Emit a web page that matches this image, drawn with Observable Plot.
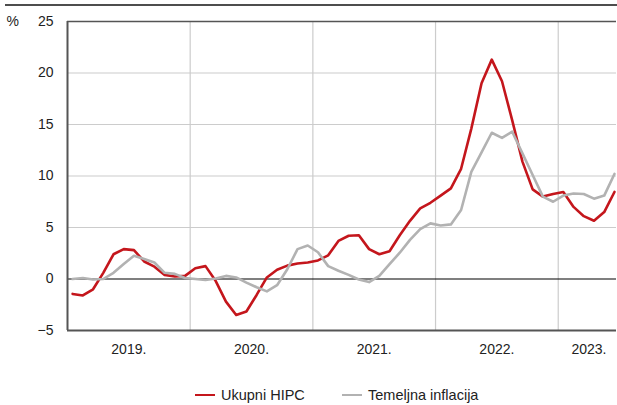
<!DOCTYPE html>
<html>
<head>
<meta charset="utf-8">
<script src="https://cdn.jsdelivr.net/npm/d3@7"></script>
<script src="https://cdn.jsdelivr.net/npm/@observablehq/plot@0.6"></script>
<style>
  html, body { margin: 0; padding: 0; background: #fff; }
  body { position: relative; width: 617px; height: 405px; overflow: hidden; font-family: "Liberation Sans", Arial, sans-serif; }
  #topline { position: absolute; left: 5px; right: 0; top: 4px; height: 0; border-top: 2px solid #4d4d4d; z-index: 2; }
  #chart { position: absolute; left: 0; top: 0; z-index: 1; }
  .leg { position: absolute; top: 387px; font-size: 14.5px; color: #222; display: flex; align-items: center; white-space: nowrap; z-index: 2; }
  .sw { display: inline-block; width: 20px; height: 0; border-top: 2.5px solid; margin-right: 6px; }
</style>
</head>
<body>
<div id="chart"></div>
<div id="topline"></div>
<div class="leg" id="leg1" style="left:195px"></div>
<div class="leg" id="leg2" style="left:342px"></div>
<script>
// Monthly values, Jan 2019 – Jun 2023
const seriesNames = ["Ukupni HIPC", "Temeljna inflacija"];
const seriesColors = ["#c4161c", "#b2b2b2"];
const hipc = [
  -1.45, -1.6, -1.0, 0.6, 2.4, 2.9, 2.8, 1.7, 1.2, 0.4, 0.25, 0.3,
  1.05, 1.25, -0.2, -2.2, -3.5, -3.15, -1.55, 0.15, 0.9, 1.3, 1.5, 1.6,
  1.8, 2.3, 3.7, 4.2, 4.25, 2.9, 2.4, 2.7, 4.25, 5.65, 6.85, 7.4,
  8.1, 8.8, 10.7, 14.6, 19.0, 21.3, 19.2, 15.4, 11.4, 8.7, 8.0, 8.25,
  8.45, 7.0, 6.1, 5.65, 6.5, 8.45
];
const core = [
  0.0, 0.1, -0.05, 0.0, 0.6, 1.45, 2.25, 1.95, 1.6, 0.6, 0.5, 0.1,
  0.0, -0.1, 0.05, 0.3, 0.15, -0.35, -0.8, -1.2, -0.6, 0.95, 2.9, 3.25,
  2.6, 1.25, 0.8, 0.4, -0.05, -0.3, 0.3, 1.45, 2.55, 3.8, 4.85, 5.4,
  5.2, 5.3, 6.7, 10.4, 12.3, 14.2, 13.7, 14.3, 12.2, 10.1, 8.0, 7.5,
  8.1, 8.3, 8.25, 7.8, 8.1, 10.2
];
const yearLabels = ["2019.", "2020.", "2021.", "2022.", "2023."];
const yearLabelPos = [6, 18, 30, 42, 51];   // month-index centres of each year's data
const yearBounds = [12, 24, 36, 48];        // month index where a new year starts
const yTicks = [-5, 0, 5, 10, 15, 20, 25];

const rows = [];
hipc.forEach((v, i) => rows.push({m: i + 0.5, v, s: seriesNames[0]}));
core.forEach((v, i) => rows.push({m: i + 0.5, v, s: seriesNames[1]}));

const font = "Liberation Sans, Arial, sans-serif";
const chart = Plot.plot({
  width: 617,
  height: 365,
  marginLeft: 67,
  marginRight: 1,
  marginTop: 21,
  marginBottom: 35,
  style: {fontFamily: font, fontSize: "14px", color: "#222", background: "#fff"},
  x: {type: "linear", domain: [0, 53.7]},
  y: {domain: [-5, 25]},
  color: {domain: seriesNames, range: seriesColors},
  marks: [
    Plot.ruleY(yTicks.filter(t => t > 0 && t < 25), {stroke: "#cccccc", strokeWidth: 1.2}),
    Plot.ruleX(yearBounds, {y1: -5, y2: 25, stroke: "#cccccc", strokeWidth: 1.2}),
    Plot.ruleY([0], {stroke: "#000", strokeWidth: 1.2}),
    Plot.line(rows, {x: "m", y: "v", z: "s", stroke: "s", strokeWidth: 2.6, strokeLinejoin: "round"}),
    Plot.ruleY([25], {stroke: "#555", strokeWidth: 1.5}),
    Plot.ruleY([-5], {stroke: "#555", strokeWidth: 2}),
    Plot.ruleX([0], {y1: -5, y2: 25, stroke: "#555", strokeWidth: 2}),
    Plot.axisY(yTicks, {tickSize: 0, tickPadding: 14, label: null, fontSize: 14}),
    Plot.axisX(yearLabelPos, {tickSize: 0, tickPadding: 14, label: null, fontSize: 14,
      tickFormat: d => yearLabels[yearLabelPos.indexOf(d)]}),
    Plot.text(["%"], {frameAnchor: "top-left", dx: -61, textAnchor: "start", lineAnchor: "middle", fontSize: 14, fill: "#222"})
  ]
});
document.getElementById("chart").appendChild(chart);

[["leg1", 0], ["leg2", 1]].forEach(([id, k]) => {
  const el = document.getElementById(id);
  const sw = document.createElement("span");
  sw.className = "sw";
  sw.style.borderTopColor = seriesColors[k];
  el.appendChild(sw);
  el.appendChild(document.createTextNode(seriesNames[k]));
});
</script>
</body>
</html>
